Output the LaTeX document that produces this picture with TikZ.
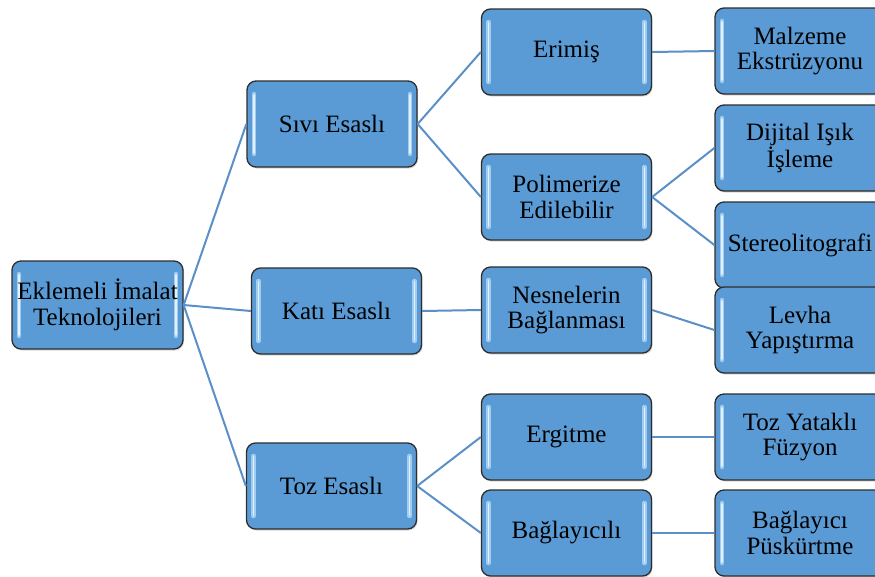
\documentclass[tikz,border=0pt]{standalone}
\usepackage{fontspec}
\setmainfont{Liberation Serif}
\usetikzlibrary{shadows}
\definecolor{boxfill}{RGB}{91,155,213}
\definecolor{boxline}{RGB}{45,45,45}
\definecolor{linkc}{RGB}{91,143,199}
\definecolor{hilite}{RGB}{160,205,240}
\definecolor{hicore}{RGB}{225,240,252}
\tikzset{
  box/.style={draw=boxline, line width=1.3pt, fill=boxfill, rounded corners=9pt,
    minimum width=170pt, minimum height=86pt, align=center, inner sep=0pt,
    font=\fontsize{25}{25.5}\selectfont,
    drop shadow={opacity=0.3, shadow xshift=1pt, shadow yshift=-1.5pt},
    path picture={
      \foreach \dx/\an/\bn in {7/north west/south west, -7/north east/south east}{
        \draw[hilite, line width=4.5pt, line cap=round]
          ([xshift=\dx pt,yshift=-13pt]path picture bounding box.\an) --
          ([xshift=\dx pt,yshift=13pt]path picture bounding box.\bn);
        \draw[hicore, line width=1.8pt, line cap=round]
          ([xshift=\dx pt,yshift=-14pt]path picture bounding box.\an) --
          ([xshift=\dx pt,yshift=14pt]path picture bounding box.\bn);
      }
    }},
  link/.style={draw=linkc, line width=2pt}
}
\begin{document}
\begin{tikzpicture}[x=1pt,y=-1pt]
\useasboundingbox (0,0) rectangle (875,576);
\clip (0,0) rectangle (875,576);
% nodes
\node[box, minimum width=171pt, minimum height=88pt] (root) at (97.5,305) {Eklemeli İmalat\\Teknolojileri};
\node[box] (sivi) at (332,124) {Sıvı Esaslı};
\node[box] (kati) at (336.5,311) {Katı Esaslı};
\node[box] (toz) at (331.5,486) {Toz Esaslı};
\node[box] (erimis) at (566.5,52) {Erimiş};
\node[box] (polim) at (566.5,197) {Polimerize\\Edilebilir};
\node[box] (nesne) at (566.5,310) {Nesnelerin\\Bağlanması};
\node[box] (ergit) at (566.5,437) {Ergitme};
\node[box] (bagl) at (566.5,533) {Bağlayıcılı};
\node[box] (malz) at (800,51) {Malzeme\\Ekstrüzyonu};
\node[box] (dijit) at (800,148) {Dijital Işık\\İşleme};
\node[box] (stereo) at (800,245) {Stereolitografi};
\node[box] (levha) at (800,330) {Levha\\Yapıştırma};
\node[box] (tozy) at (800,437) {Toz Yataklı\\Füzyon};
\node[box] (bpus) at (800,533) {Bağlayıcı\\Püskürtme};
% connectors
\draw[link] (root.east) -- (sivi.west);
\draw[link] (root.east) -- (kati.west);
\draw[link] (root.east) -- (toz.west);
\draw[link] (sivi.east) -- (erimis.west);
\draw[link] (sivi.east) -- (polim.west);
\draw[link] (kati.east) -- (nesne.west);
\draw[link] (toz.east) -- (ergit.west);
\draw[link] (toz.east) -- (bagl.west);
\draw[link] (erimis.east) -- (malz.west);
\draw[link] (polim.east) -- (dijit.west);
\draw[link] (polim.east) -- (stereo.west);
\draw[link] (nesne.east) -- (levha.west);
\draw[link] (ergit.east) -- (tozy.west);
\draw[link] (bagl.east) -- (bpus.west);
\end{tikzpicture}
\end{document}
